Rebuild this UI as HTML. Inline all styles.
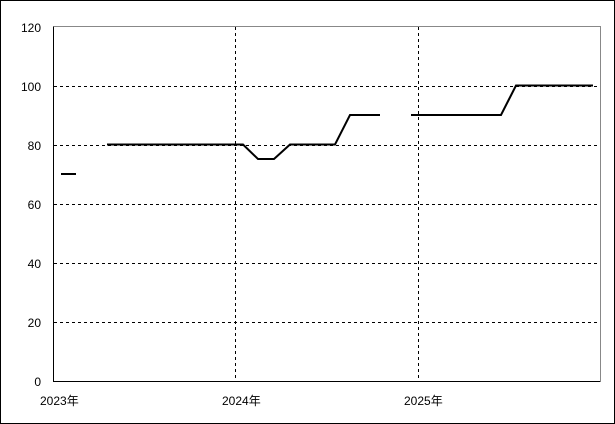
<!DOCTYPE html>
<html><head><meta charset="utf-8"><style>
html,body{margin:0;padding:0;background:#fff}
svg{display:block}
text{font-family:"Liberation Sans","Noto Sans CJK JP",sans-serif;font-size:12px;fill:#000}
</style></head><body>
<svg width="615" height="424" xmlns="http://www.w3.org/2000/svg">
<rect x="0.5" y="0.5" width="614" height="423" fill="#fff" stroke="#000"/>
<g stroke="#000" stroke-dasharray="3,3" stroke-width="1">
<line x1="54" y1="322.5" x2="600" y2="322.5"/>
<line x1="54" y1="263.5" x2="600" y2="263.5"/>
<line x1="54" y1="204.5" x2="600" y2="204.5"/>
<line x1="54" y1="145.5" x2="600" y2="145.5"/>
<line x1="54" y1="86.5" x2="600" y2="86.5"/>
<line x1="235.5" y1="27" x2="235.5" y2="381"/>
<line x1="418.5" y1="27" x2="418.5" y2="381"/>
</g>
<polyline points="53.5,26.5 600.5,26.5 600.5,381" fill="none" stroke="#888"/>
<polyline points="53.5,26.5 53.5,381.5 600.5,381.5" fill="none" stroke="#000"/>
<g fill="none" stroke="#000" stroke-width="2">
<line x1="61" y1="174" x2="76" y2="174"/>
<polyline points="107,144.5 243,144.5 258,159 274,159 290,144.5 335,144.5 350,115 380,115"/>
<polyline points="411,115 501,115 516,85.5 593,85.5"/>
</g>
<g text-anchor="end">
<text x="41" y="32">120</text>
<text x="41" y="91">100</text>
<text x="41" y="150">80</text>
<text x="41" y="209">60</text>
<text x="41" y="268">40</text>
<text x="41" y="327">20</text>
<text x="41" y="386">0</text>
</g>
<text x="40" y="405">2023年</text>
<text x="222" y="405">2024年</text>
<text x="404" y="405">2025年</text>
</svg>
</body></html>
